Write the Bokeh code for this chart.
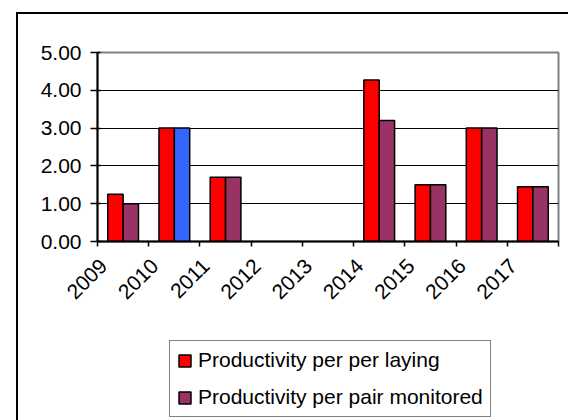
from bokeh.plotting import figure
from bokeh.layouts import column
from bokeh.models import (ColumnDataSource, Range1d, FixedTicker, NumeralTickFormatter,
                          Legend, LegendItem, InlineStyleSheet)
from bokeh.embed import file_html
from bokeh.resources import INLINE
import math

# ---- data ----
years = ["2009", "2010", "2011", "2012", "2013", "2014", "2015", "2016", "2017"]
per_laying = [1.25, 3.00, 1.70, float("nan"), float("nan"), 4.27, 1.50, 3.00, 1.45]
per_pair = [1.00, 3.00, 1.70, float("nan"), float("nan"), 3.20, 1.50, 3.00, 1.45]
y_ticks = [0, 1, 2, 3, 4, 5]
series_names = ["Productivity per per laying", "Productivity per pair monitored"]

FONT = "Liberation Sans"
FS = "21px"
RED = "#FF0000"
PURPLE = "#993366"
BLUE = "#3366FF"

idx = list(range(len(years)))
pair_colors = [BLUE if y == "2010" else PURPLE for y in years]
src = ColumnDataSource(dict(
    x1=[i + 0.35 for i in idx],
    x2=[i + 0.65 for i in idx],
    a=per_laying,
    b=per_pair,
    c=pair_colors,
))

MAIN_H = 320
p = figure(width=568, height=MAIN_H, output_backend="svg", toolbar_location=None,
           x_range=Range1d(0, len(years)), y_range=Range1d(0, 5),
           min_border_left=97, min_border_right=10, min_border_top=52,
           min_border_bottom=MAIN_H - 52 - 189)
p.background_fill_color = "white"
p.border_fill_color = "white"
p.outline_line_color = "#808080"
p.outline_line_width = 2

bar_kw = dict(width=0.3, source=src, line_color="black", line_width=1.5)
r1 = p.vbar(x="x1", top="a", fill_color=RED, **bar_kw)
r2 = p.vbar(x="x2", top="b", fill_color="c", **bar_kw)

# x axis: labels offset inside category, tick marks at boundaries (minor ticks)
label_pos = [i + 0.12 for i in idx]
xa = p.xaxis[0]
xa.ticker = FixedTicker(ticks=label_pos, minor_ticks=list(range(len(years) + 1)))
xa.major_label_overrides = {pos: y for pos, y in zip(label_pos, years)}
xa.major_tick_line_color = None
xa.minor_tick_line_color = "black"
xa.minor_tick_line_width = 1.5
xa.minor_tick_out = 5
xa.minor_tick_in = 0
xa.axis_line_color = "black"
xa.axis_line_width = 2
xa.major_label_orientation = math.pi / 4
xa.major_label_text_font = FONT
xa.major_label_text_font_size = FS
xa.major_label_text_color = "black"
xa.major_label_standoff = 15

ya = p.yaxis[0]
ya.ticker = FixedTicker(ticks=y_ticks, minor_ticks=[])
ya.formatter = NumeralTickFormatter(format="0.00")
ya.axis_line_color = "black"
ya.axis_line_width = 2
ya.major_tick_line_color = "black"
ya.major_tick_line_width = 1.5
ya.major_tick_out = 7
ya.major_tick_in = 3
ya.major_label_text_font = FONT
ya.major_label_text_font_size = FS
ya.major_label_text_color = "black"
ya.major_label_standoff = 9

p.xgrid.visible = False
p.ygrid.ticker = FixedTicker(ticks=y_ticks[1:-1])
p.ygrid.grid_line_color = "black"
p.ygrid.grid_line_width = 1.2

# ---- legend panel (second figure, same glyph styles, renderers hidden) ----
LEG_H = 420 - MAIN_H
q = figure(width=568, height=LEG_H, output_backend="svg", toolbar_location=None,
           x_axis_type=None, y_axis_type=None, min_border=0,
           x_range=Range1d(-100, -99), y_range=Range1d(0, 1))
q.outline_line_color = None
q.background_fill_color = "white"
q.border_fill_color = "white"
q.xgrid.visible = False
q.ygrid.visible = False
l1 = q.vbar(x="x1", top="a", fill_color=RED, visible=False, **bar_kw)
l2 = q.vbar(x="x2", top="b", fill_color="c", visible=False, **bar_kw)

legend = Legend(items=[LegendItem(label=series_names[0], renderers=[l1], index=0),
                       LegendItem(label=series_names[1], renderers=[l2], index=0)],
                location=(72, 3), orientation="vertical")
legend.label_text_font = FONT
legend.label_text_font_size = FS
legend.label_text_color = "black"
legend.glyph_width = 15
legend.glyph_height = 15
legend.label_height = 20
legend.label_standoff = 6
legend.spacing = 13
legend.padding = 7
legend.margin = 0
legend.border_line_color = "black"
legend.border_line_width = 1.5
legend.background_fill_color = "white"
legend.background_fill_alpha = 1
legend.inactive_fill_alpha = 0
q.add_layout(legend, "center")

layout = column(p, q, spacing=0)
# outer chart frame (extends past the window on right/bottom)
layout.stylesheets = [InlineStyleSheet(css="""
:host { position: relative; }
:host::after { content: ''; position: absolute; left: 16px; top: 12px;
  width: 552px; height: 408px; border-left: 2px solid black;
  border-top: 2px solid black; box-sizing: border-box;
  pointer-events: none; z-index: 10; }
""")]

open("out.html", "w").write(file_html(layout, INLINE))
